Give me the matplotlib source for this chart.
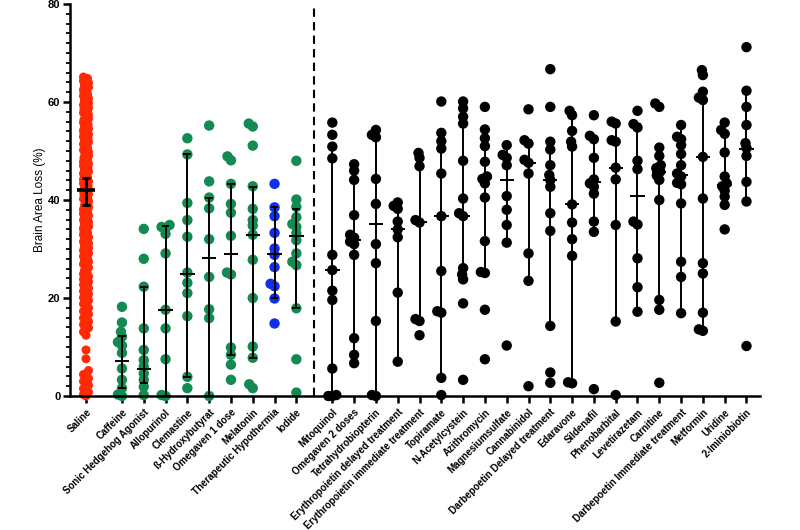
import numpy as np
import matplotlib
matplotlib.use("Agg")
import matplotlib.pyplot as plt

plt.rcParams['font.family'] = ['Liberation Sans', 'DejaVu Sans']

categories = ["Saline", "Caffeine", "Sonic Hedgehog Agonist", "Allopurinol", "Clemastine",
              "ß-Hydroxybutyrat", "Omegaven 1 dose", "Melatonin", "Therapeutic Hypothermia", "Iodide",
              "Mitoquinol", "Omegaven 2 doses", "Tetrahydrobiopterin", "Erythropoietin delayed treatment",
              "Erythropoietin immediate treatment", "Topiramate", "N-Acetylcystein", "Azithromycin",
              "Magnesiumsulfate", "Cannabinidol", "Darbepoetin Delayed treatment", "Edaravone",
              "Sildenafil", "Phenobarbital", "Levetirazetam", "Carnitine",
              "Darbepoetin Immediate treatment", "Metformin", "Uridine", "2-Iminiobiotin"]

saline = [0.0, 0.3, 0.8, 1.5, 2.2, 3.0, 3.6, 4.4, 5.2, 7.6, 9.4,
          12.4, 13.1, 13.9, 14.6, 15.2, 15.9, 16.7, 17.3, 18.0, 18.8, 19.5,
          20.1, 20.8, 21.4, 22.0, 22.7, 23.3, 23.8, 24.4, 25.1, 25.6, 26.2, 26.9, 27.4, 28.0, 28.5, 29.1, 29.7,
          30.2, 30.6, 31.1, 31.5, 32.0, 32.4, 32.9, 33.3, 33.8, 34.2, 34.6, 35.1, 35.5, 35.9, 36.4, 36.8,
          37.2, 37.7, 38.1, 38.5, 38.9, 39.4, 39.8,
          40.2, 40.6, 41.0, 41.4, 41.8, 42.2, 42.6, 43.0, 43.4, 43.8, 44.2, 44.6, 45.0, 45.4, 45.8, 46.2,
          46.6, 47.0, 47.4, 47.8, 48.2, 48.6, 49.0, 49.4, 49.8,
          50.2, 50.6, 51.0, 51.4, 51.8, 52.2, 52.6, 53.0, 53.4, 53.8, 54.2, 54.6, 55.0, 55.4, 55.8, 56.2,
          56.6, 57.0, 57.4, 57.8, 58.2, 58.6, 59.0, 59.4, 59.8,
          60.3, 60.7, 61.2, 61.6, 62.1, 62.5, 63.0, 63.4, 63.9, 64.3, 64.8, 65.1,
          27.7, 33.6, 36.1, 41.2, 43.6, 47.2, 50.8, 53.6, 56.4, 58.8, 44.8, 39.2, 31.8, 24.9, 52.9, 61.9]
caffeine = [18.2, 15.0, 13.1, 12.1, 11.0, 10.3, 8.8, 5.6, 3.3, 1.6, 0.3, 0.0]
sonic = [34.1, 28.0, 22.3, 13.8, 9.4, 7.3, 6.0, 4.6, 3.3, 1.9, 0.2]
allopurinol = [34.9, 34.5, 34.2, 33.1, 29.1, 17.6, 13.8, 7.5, 0.2, 0.0]
clemastine = [52.6, 49.3, 39.4, 35.9, 32.5, 25.2, 23.1, 21.0, 16.3, 3.9, 1.6]
hydroxybutyrat = [55.2, 43.8, 40.5, 38.3, 32.0, 24.3, 17.7, 15.9, 0.0]
omegaven1 = [48.9, 48.1, 43.3, 39.2, 37.4, 32.7, 25.2, 24.8, 9.9, 8.4, 6.4, 3.3]
melatonin = [55.6, 55.0, 51.1, 42.8, 38.2, 35.9, 34.8, 32.9, 27.8, 20.0, 10.1, 7.8, 2.4, 1.6]
hypothermia = [43.3, 38.5, 36.7, 33.3, 30.1, 28.8, 26.3, 22.9, 22.4, 19.9, 14.8]
iodide = [48.0, 40.1, 38.6, 36.5, 35.1, 34.5, 33.2, 31.8, 29.1, 27.4, 26.7, 17.9, 7.5, 0.7]
mitoquinol = [55.8, 53.3, 50.9, 48.5, 28.8, 25.7, 21.5, 19.6, 5.6, 0.2, 0.0, 0.0]
omegaven2 = [47.3, 46.0, 44.1, 36.9, 32.9, 32.3, 31.5, 31.0, 28.8, 11.8, 8.4, 6.7]
tetrahydro = [54.3, 53.3, 52.8, 44.3, 39.2, 31.0, 27.1, 15.3, 0.2, 0.0]
epo_delayed = [39.5, 38.8, 38.2, 35.6, 34.0, 32.4, 21.1, 7.0]
epo_immediate = [49.6, 48.6, 46.9, 35.9, 35.4, 15.7, 15.3, 12.4]
topiramate = [60.1, 53.7, 52.0, 50.5, 45.4, 36.7, 25.5, 17.3, 17.0, 3.7, 0.2]
nacetyl = [60.1, 58.7, 57.0, 55.6, 48.0, 40.3, 37.3, 36.7, 26.1, 24.8, 23.8, 18.9, 3.3]
azithro = [59.0, 54.4, 52.6, 51.0, 47.8, 44.8, 44.3, 43.4, 40.5, 31.6, 25.3, 25.1, 17.6, 7.5]
magnesium = [51.2, 49.2, 48.6, 47.1, 40.8, 38.0, 34.9, 31.3, 10.3]
cannabinidol = [58.5, 52.2, 51.5, 48.2, 47.6, 45.4, 29.1, 23.5, 2.0]
darbe_delayed = [66.7, 59.0, 51.9, 50.3, 47.1, 45.1, 44.1, 42.7, 37.3, 33.7, 14.3, 4.8, 2.7]
edaravone = [58.2, 57.3, 54.1, 51.9, 50.9, 39.1, 35.4, 32.0, 28.6, 2.8, 2.6]
sildenafil = [57.3, 53.1, 52.4, 48.6, 44.2, 43.4, 42.7, 41.3, 35.6, 33.5, 1.4]
phenobarbital = [56.0, 55.6, 52.2, 51.9, 46.6, 44.2, 34.9, 15.2, 0.2]
levetirazetam = [58.2, 55.5, 54.8, 48.0, 46.3, 35.6, 35.0, 28.1, 22.2, 17.2]
carnitine = [59.7, 59.0, 50.7, 49.0, 47.1, 46.5, 45.8, 45.0, 44.1, 40.0, 19.6, 17.6, 2.7]
darbe_immediate = [55.3, 52.9, 52.4, 51.2, 49.4, 47.1, 45.4, 44.8, 43.5, 43.2, 39.3, 27.4, 24.3, 16.9]
metformin = [66.5, 65.5, 62.1, 60.9, 60.4, 48.8, 40.3, 27.1, 25.0, 17.0, 13.6, 13.3]
uridine = [55.8, 54.3, 53.5, 49.7, 44.8, 43.4, 42.8, 41.9, 40.7, 39.0, 34.0]
iminiobiotin = [71.2, 62.3, 59.0, 55.3, 51.6, 50.6, 49.0, 43.7, 39.7, 10.2]

groups = [saline, caffeine, sonic, allopurinol, clemastine, hydroxybutyrat, omegaven1, melatonin,
          hypothermia, iodide, mitoquinol, omegaven2, tetrahydro, epo_delayed, epo_immediate, topiramate,
          nacetyl, azithro, magnesium, cannabinidol, darbe_delayed, edaravone, sildenafil, phenobarbital,
          levetirazetam, carnitine, darbe_immediate, metformin, uridine, iminiobiotin]

centers = [42.0, 7.2, 5.6, 17.6, 24.9, 28.2, 28.9, 32.9, 29.0, 32.7,
           25.7, 31.8, 35.1, 34.0, 35.5, 36.7, 36.7, 44.4, 44.1, 47.6,
           44.1, 39.1, 43.6, 46.6, 40.9, 45.8, 45.1, 48.8, 43.1, 50.5]
lower = [38.9, 1.6, 2.7, 0.0, 3.9, 0.0, 8.4, 7.8, 19.9, 17.9,
         0.0, 6.7, 0.0, 7.0, 15.2, 3.6, 24.3, 25.2, 31.2, 23.5,
         14.3, 2.6, 33.5, 15.2, 17.2, 19.2, 16.9, 13.5, 39.0, 39.7]
upper = [44.4, 12.3, 22.2, 34.6, 49.3, 40.5, 43.3, 42.6, 38.6, 38.1,
         51.0, 47.0, 53.3, 38.6, 48.5, 50.9, 58.7, 54.3, 51.2, 52.2,
         50.9, 58.0, 52.8, 56.0, 55.5, 50.5, 55.3, 60.7, 55.3, 62.1]

RED, GREEN, BLUE, BLACK = "#ff2a05", "#128a52", "#1030ee", "#000000"
colors = [RED] + [GREEN] * 7 + [BLUE, GREEN] + [BLACK] * 20

# layout
W, H = 800, 530
ax_l, ax_r, ax_b, ax_t = 70, 760, 134, 526
positions = [0.0] + [1.65 + i for i in range(9)] + [11.3 + i for i in range(20)]
xmin, xmax = -0.734, 30.92
ymin, ymax = 0, 80
xppu = (ax_r - ax_l) / (xmax - xmin)
yppu = (ax_t - ax_b) / (ymax - ymin)

fig = plt.figure(figsize=(W / 100, H / 100), dpi=100)
ax = fig.add_axes([ax_l / W, ax_b / H, (ax_r - ax_l) / W, (ax_t - ax_b) / H])


def swarm(vals, xc, diam, max_off):
    vals = np.asarray(vals, float)
    order = np.argsort(vals, kind="stable")
    cands = np.arange(-max_off, max_off + 0.01, 0.5)
    cands = cands[np.argsort(np.abs(cands), kind="stable")]
    placed = []
    offs = np.zeros(len(vals))
    for i in order:
        y = vals[i] * yppu
        best, bestd = 0.0, -1.0
        for c in cands:
            if placed:
                dmin = min(np.hypot(c - px, y - py) for px, py in placed)
            else:
                dmin = 1e9
            if dmin >= diam:
                best = c
                break
            if dmin > bestd:
                bestd, best = dmin, c
        offs[i] = best
        placed.append((best, y))
    return xc + offs / xppu


for k, (vals, xc, col) in enumerate(zip(groups, positions, colors)):
    if k == 0:
        xs = swarm(vals, xc, 6.0, 2.5)
        ax.scatter(xs, vals, s=42, color=col, edgecolors="none", zorder=2, clip_on=False)
        ax.vlines(xc, lower[k], upper[k], color="black", lw=2.2, zorder=4)
        ax.hlines([lower[k], upper[k]], xc - 0.2, xc + 0.2, color="black", lw=2.2, zorder=4)
        ax.hlines(centers[k], xc - 0.42, xc + 0.42, color="black", lw=2.6, zorder=4)
    else:
        xs = swarm(vals, xc, 5.0, 4.0)
        ax.scatter(xs, vals, s=56, color=col, edgecolors="none", zorder=2, clip_on=False)
        ax.vlines(xc, lower[k], upper[k], color="black", lw=1.4, zorder=4)
        ax.hlines([lower[k], upper[k]], xc - 0.18, xc + 0.18, color="black", lw=1.4, zorder=4)
        ax.hlines(centers[k], xc - 0.33, xc + 0.33, color="black", lw=1.4, zorder=4)

sep = (positions[9] + positions[10]) / 2
ax.plot([sep, sep], [0, 80], color="black", lw=1.5, ls=(0, (4, 2.5)), zorder=1, clip_on=False)

ax.set_xlim(xmin, xmax)
ax.set_ylim(ymin, ymax)
ax.spines["top"].set_visible(False)
ax.spines["right"].set_visible(False)
ax.spines["left"].set_linewidth(1.8)
ax.spines["bottom"].set_linewidth(1.8)

ax.set_yticks([0, 20, 40, 60, 80])
ax.set_yticks(np.arange(0, 81, 2), minor=True)
ax.tick_params(axis="y", which="major", length=5, width=1.8, labelsize=8, pad=2)
ax.tick_params(axis="y", which="minor", length=3, width=1.3)
for t in ax.get_yticklabels():
    t.set_fontweight("bold")

ax.set_xticks(positions)
ax.set_xticklabels(categories, rotation=45, ha="right", rotation_mode="anchor",
                   fontsize=7, fontweight="bold")
ax.tick_params(axis="x", length=5, width=1.8, pad=3)

ax.set_ylabel("Brain Area Loss (%)", fontsize=8.5, labelpad=1)

fig.savefig("out.png", dpi=100)
